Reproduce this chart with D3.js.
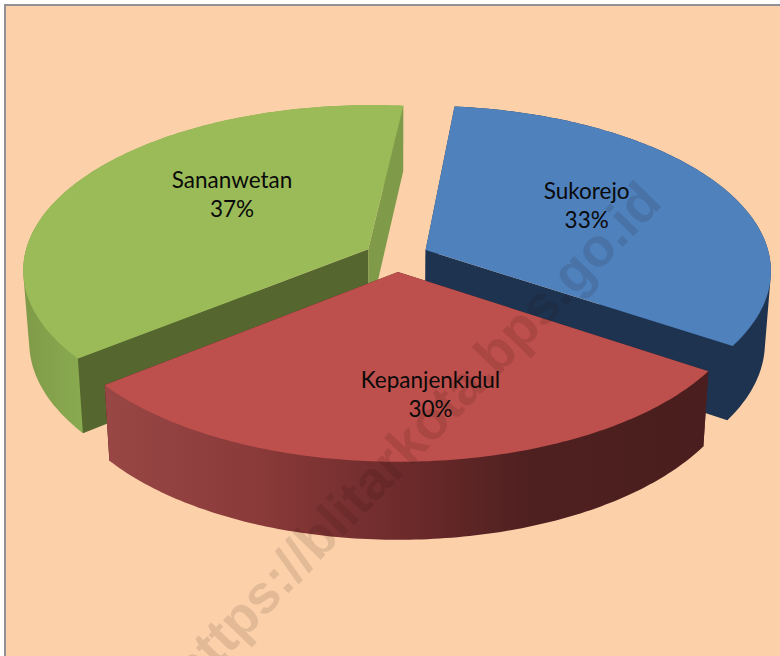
<!DOCTYPE html>
<html><head><meta charset="utf-8">
<script src="https://cdn.jsdelivr.net/npm/d3@7/dist/d3.min.js"></script>
<style>html,body{margin:0;padding:0;background:#fff}svg{display:block}</style>
</head><body><div id="chart"></div>
<script>
const categories = ["Sukorejo", "Kepanjenkidul", "Sananwetan"];
const shares = [32.7, 29.85, 37.45];
const topColors = ["#4f81bd", "#bd4f4c", "#9bbb59"];
const frontWallColors = ["#1e3350", "#4a1e1e", "#55672f"];
const backWallColors = ["#1e3350", "#4a1e1e", "#7f9a48"];
const outerWallColors = ["#1e3350", "url(#redWall)", "url(#greenWall)"];
const watermark = "https://blitarkota.bps.go.id";

const W = 780, H = 656;
const cx = 396.5, cy = 256.5, R = 344, Ry = 163, persp = 0.12;
const explode = 0.094, startDeg = 6;
const depth0 = 71.2, depthPersp = 0.08, bottomShrink = 0.984;

const svg = d3.select("#chart").append("svg").attr("width", W).attr("height", H);
const defs = svg.append("defs");
const grad = (id, stops) => {
  const g = defs.append("linearGradient").attr("id", id).attr("gradientUnits", "userSpaceOnUse")
    .attr("x1", stops.x1).attr("x2", stops.x2).attr("y1", 0).attr("y2", 0);
  stops.c.forEach(([o, c]) => g.append("stop").attr("offset", o).attr("stop-color", c));
};
grad("redWall", {x1: 106, x2: 707, c: [[0, "#984745"], [0.25, "#8a3a39"], [0.5, "#6d2a2b"], [0.7, "#4f2020"], [1, "#4a1e1e"]]});
grad("greenWall", {x1: 22, x2: 85, c: [[0, "#7f9a48"], [1, "#8aab50"]]});

svg.append("rect").attr("width", W).attr("height", H).attr("fill", "#fff");
svg.append("rect").attr("x", 5).attr("y", 5).attr("width", W + 10).attr("height", H + 10)
  .attr("fill", "#fcd1aa").attr("stroke", "#8f9196").attr("stroke-width", 2);

const pie = d3.pie().sort(null)
  .startAngle(startDeg * Math.PI / 180)
  .endAngle((startDeg + 360) * Math.PI / 180);
const arcs = pie(shares);

const toPlane = (a, r, mid) => ({
  X: explode * Math.sin(mid) + r * Math.sin(a),
  Y: -explode * Math.cos(mid) - r * Math.cos(a)
});
const projTop = p => {
  const s = 1 / (1 - persp * p.Y);
  return [cx + R * p.X * s, cy + Ry * p.Y * s];
};
const projBottom = p => {
  const t = projTop(p);
  return [cx + (t[0] - cx) * bottomShrink, t[1] + depth0 / (1 - depthPersp * p.Y)];
};
const line = d3.line();
const closed = pts => line(pts) + "Z";

const g = svg.append("g");
// paint back slices before the front one
[2, 0, 1].forEach(i => {
  const d = arcs[i], mid = (d.startAngle + d.endAngle) / 2;
  const steps = d3.range(0, 121).map(k => d.startAngle + (d.endAngle - d.startAngle) * k / 120);
  const rim = steps.map(a => toPlane(a, 1, mid));
  const apex = toPlane(0, 0, mid);
  const first = rim[0], last = rim[rim.length - 1];
  const wall = (a, b) => closed([projTop(a), projTop(b), projBottom(b), projBottom(a)]);
  const drawOuter = () => g.append("path")
    .attr("d", closed(d3.polygonHull(rim.map(projTop).concat(rim.map(projBottom)))))
    .attr("fill", outerWallColors[i]);
  const drawInner = () => {
    g.append("path").attr("d", wall(apex, first)).attr("fill", i === 2 ? frontWallColors[i] : backWallColors[i]);
    g.append("path").attr("d", wall(apex, last)).attr("fill", i === 2 ? backWallColors[i] : frontWallColors[i]);
  };
  // a slice facing the viewer hides its inner walls behind the outer wall
  if (Math.cos(mid) < -0.5) { drawInner(); drawOuter(); } else { drawOuter(); drawInner(); }
  g.append("path").attr("d", closed([projTop(apex)].concat(rim.map(projTop)))).attr("fill", topColors[i]);
});

// labels
const labelLayout = [{r: 0.55, dx: -4, dy: -6}, {r: 0.62, dx: 22, dy: 12}, {r: 0.5, dx: 9, dy: -16}];
const labels = svg.append("g").attr("font-family", "Lato, Carlito, sans-serif").attr("font-size", 22.5)
  .attr("fill", "#0a0a0a").attr("text-anchor", "middle");
arcs.forEach((d, i) => {
  const mid = (d.startAngle + d.endAngle) / 2;
  const [x, y] = projTop(toPlane(mid, labelLayout[i].r, mid));
  const t = labels.append("text");
  t.append("tspan").attr("x", x + labelLayout[i].dx).attr("y", y + labelLayout[i].dy - 8).text(categories[i]);
  t.append("tspan").attr("x", x + labelLayout[i].dx).attr("y", y + labelLayout[i].dy + 21).text(d3.format(".0f")(shares[i]) + "%");
});

// watermark
svg.append("text").attr("transform", "translate(193,692) rotate(-46)")
  .attr("font-family", "Liberation Sans, Arial, sans-serif").attr("font-weight", 700).attr("font-size", 54)
  .attr("fill", "#1a0a00").attr("fill-opacity", 0.115).text(watermark);
</script></body></html>
